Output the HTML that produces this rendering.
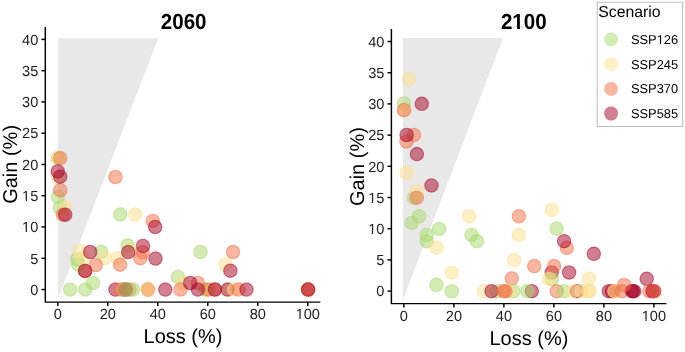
<!DOCTYPE html>
<html><head><meta charset="utf-8"><title>Gain vs Loss</title>
<style>
html,body{margin:0;padding:0;background:#fff;}
body{width:685px;height:352px;overflow:hidden;}
svg{display:block;font-family:'Liberation Sans', Arial, Helvetica, sans-serif;}
</style></head>
<body>
<svg width="685" height="352" viewBox="0 0 685 352">
<rect width="685" height="352" fill="#fff"/>
<polygon points="57.8,299.4 57.8,38.2 158.2,38.2" fill="#E8E8E8"/>
<circle cx="115.4" cy="289.6" r="6.7" fill="#A50026" fill-opacity="0.5" stroke="#A50026" stroke-opacity="0.5" stroke-width="1.1"/>
<circle cx="214.9" cy="289.6" r="6.7" fill="#F46D43" fill-opacity="0.5" stroke="#F46D43" stroke-opacity="0.5" stroke-width="1.1"/>
<circle cx="227.6" cy="289.6" r="6.7" fill="#FEE08B" fill-opacity="0.5" stroke="#FEE08B" stroke-opacity="0.5" stroke-width="1.1"/>
<circle cx="208.1" cy="289.6" r="6.7" fill="#FEE08B" fill-opacity="0.5" stroke="#FEE08B" stroke-opacity="0.5" stroke-width="1.1"/>
<circle cx="57.8" cy="158.2" r="6.7" fill="#A6D96A" fill-opacity="0.5" stroke="#A6D96A" stroke-opacity="0.5" stroke-width="1.1"/>
<circle cx="57.9" cy="196.8" r="6.7" fill="#A6D96A" fill-opacity="0.5" stroke="#A6D96A" stroke-opacity="0.5" stroke-width="1.1"/>
<circle cx="59.9" cy="208" r="6.7" fill="#A6D96A" fill-opacity="0.5" stroke="#A6D96A" stroke-opacity="0.5" stroke-width="1.1"/>
<circle cx="77.2" cy="259.4" r="6.7" fill="#A6D96A" fill-opacity="0.5" stroke="#A6D96A" stroke-opacity="0.5" stroke-width="1.1"/>
<circle cx="78.2" cy="264.5" r="6.7" fill="#A6D96A" fill-opacity="0.5" stroke="#A6D96A" stroke-opacity="0.5" stroke-width="1.1"/>
<circle cx="70.1" cy="289.6" r="6.7" fill="#A6D96A" fill-opacity="0.5" stroke="#A6D96A" stroke-opacity="0.5" stroke-width="1.1"/>
<circle cx="85.2" cy="289.6" r="6.7" fill="#A6D96A" fill-opacity="0.5" stroke="#A6D96A" stroke-opacity="0.5" stroke-width="1.1"/>
<circle cx="93" cy="283" r="6.7" fill="#A6D96A" fill-opacity="0.5" stroke="#A6D96A" stroke-opacity="0.5" stroke-width="1.1"/>
<circle cx="101.1" cy="251.7" r="6.7" fill="#A6D96A" fill-opacity="0.5" stroke="#A6D96A" stroke-opacity="0.5" stroke-width="1.1"/>
<circle cx="120.3" cy="214.5" r="6.7" fill="#A6D96A" fill-opacity="0.5" stroke="#A6D96A" stroke-opacity="0.5" stroke-width="1.1"/>
<circle cx="127.6" cy="245.5" r="6.7" fill="#A6D96A" fill-opacity="0.5" stroke="#A6D96A" stroke-opacity="0.5" stroke-width="1.1"/>
<circle cx="177.9" cy="276.9" r="6.7" fill="#A6D96A" fill-opacity="0.5" stroke="#A6D96A" stroke-opacity="0.5" stroke-width="1.1"/>
<circle cx="200.4" cy="252" r="6.7" fill="#A6D96A" fill-opacity="0.5" stroke="#A6D96A" stroke-opacity="0.5" stroke-width="1.1"/>
<circle cx="205.6" cy="289.6" r="6.7" fill="#A6D96A" fill-opacity="0.5" stroke="#A6D96A" stroke-opacity="0.5" stroke-width="1.1"/>
<circle cx="57.8" cy="158.2" r="6.7" fill="#FEE08B" fill-opacity="0.5" stroke="#FEE08B" stroke-opacity="0.5" stroke-width="1.1"/>
<circle cx="57.8" cy="177" r="6.7" fill="#FEE08B" fill-opacity="0.5" stroke="#FEE08B" stroke-opacity="0.5" stroke-width="1.1"/>
<circle cx="65.3" cy="207.6" r="6.7" fill="#FEE08B" fill-opacity="0.5" stroke="#FEE08B" stroke-opacity="0.5" stroke-width="1.1"/>
<circle cx="79.7" cy="251" r="6.7" fill="#FEE08B" fill-opacity="0.5" stroke="#FEE08B" stroke-opacity="0.5" stroke-width="1.1"/>
<circle cx="82.4" cy="258.4" r="6.7" fill="#FEE08B" fill-opacity="0.5" stroke="#FEE08B" stroke-opacity="0.5" stroke-width="1.1"/>
<circle cx="105" cy="258" r="6.7" fill="#FEE08B" fill-opacity="0.5" stroke="#FEE08B" stroke-opacity="0.5" stroke-width="1.1"/>
<circle cx="117.9" cy="258" r="6.7" fill="#FEE08B" fill-opacity="0.5" stroke="#FEE08B" stroke-opacity="0.5" stroke-width="1.1"/>
<circle cx="129.5" cy="250" r="6.7" fill="#FEE08B" fill-opacity="0.5" stroke="#FEE08B" stroke-opacity="0.5" stroke-width="1.1"/>
<circle cx="135.2" cy="214.5" r="6.7" fill="#FEE08B" fill-opacity="0.5" stroke="#FEE08B" stroke-opacity="0.5" stroke-width="1.1"/>
<circle cx="123.4" cy="289.6" r="6.7" fill="#FEE08B" fill-opacity="0.5" stroke="#FEE08B" stroke-opacity="0.5" stroke-width="1.1"/>
<circle cx="182.9" cy="283" r="6.7" fill="#FEE08B" fill-opacity="0.5" stroke="#FEE08B" stroke-opacity="0.5" stroke-width="1.1"/>
<circle cx="225.5" cy="264.5" r="6.7" fill="#FEE08B" fill-opacity="0.5" stroke="#FEE08B" stroke-opacity="0.5" stroke-width="1.1"/>
<circle cx="60.2" cy="158.1" r="6.7" fill="#F46D43" fill-opacity="0.5" stroke="#F46D43" stroke-opacity="0.5" stroke-width="1.1"/>
<circle cx="60.2" cy="190.2" r="6.7" fill="#F46D43" fill-opacity="0.5" stroke="#F46D43" stroke-opacity="0.5" stroke-width="1.1"/>
<circle cx="62.9" cy="214.7" r="6.7" fill="#F46D43" fill-opacity="0.5" stroke="#F46D43" stroke-opacity="0.5" stroke-width="1.1"/>
<circle cx="95.7" cy="265" r="6.7" fill="#F46D43" fill-opacity="0.5" stroke="#F46D43" stroke-opacity="0.5" stroke-width="1.1"/>
<circle cx="85.1" cy="270.9" r="6.7" fill="#F46D43" fill-opacity="0.5" stroke="#F46D43" stroke-opacity="0.5" stroke-width="1.1"/>
<circle cx="120.1" cy="264.7" r="6.7" fill="#F46D43" fill-opacity="0.5" stroke="#F46D43" stroke-opacity="0.5" stroke-width="1.1"/>
<circle cx="115.4" cy="177" r="6.7" fill="#F46D43" fill-opacity="0.5" stroke="#F46D43" stroke-opacity="0.5" stroke-width="1.1"/>
<circle cx="142.7" cy="252.3" r="6.7" fill="#F46D43" fill-opacity="0.5" stroke="#F46D43" stroke-opacity="0.5" stroke-width="1.1"/>
<circle cx="140.3" cy="258.2" r="6.7" fill="#F46D43" fill-opacity="0.5" stroke="#F46D43" stroke-opacity="0.5" stroke-width="1.1"/>
<circle cx="152.8" cy="220.9" r="6.7" fill="#F46D43" fill-opacity="0.5" stroke="#F46D43" stroke-opacity="0.5" stroke-width="1.1"/>
<circle cx="120.8" cy="289.6" r="6.7" fill="#F46D43" fill-opacity="0.5" stroke="#F46D43" stroke-opacity="0.5" stroke-width="1.1"/>
<circle cx="125" cy="289.6" r="6.7" fill="#F46D43" fill-opacity="0.5" stroke="#F46D43" stroke-opacity="0.5" stroke-width="1.1"/>
<circle cx="129.5" cy="289.6" r="6.7" fill="#F46D43" fill-opacity="0.5" stroke="#F46D43" stroke-opacity="0.5" stroke-width="1.1"/>
<circle cx="180.5" cy="289.6" r="6.7" fill="#F46D43" fill-opacity="0.5" stroke="#F46D43" stroke-opacity="0.5" stroke-width="1.1"/>
<circle cx="197.8" cy="283" r="6.7" fill="#F46D43" fill-opacity="0.5" stroke="#F46D43" stroke-opacity="0.5" stroke-width="1.1"/>
<circle cx="208.1" cy="289.6" r="6.7" fill="#F46D43" fill-opacity="0.5" stroke="#F46D43" stroke-opacity="0.5" stroke-width="1.1"/>
<circle cx="233" cy="252" r="6.7" fill="#F46D43" fill-opacity="0.5" stroke="#F46D43" stroke-opacity="0.5" stroke-width="1.1"/>
<circle cx="57.7" cy="171.4" r="6.7" fill="#A50026" fill-opacity="0.5" stroke="#A50026" stroke-opacity="0.5" stroke-width="1.1"/>
<circle cx="60.2" cy="176.7" r="6.7" fill="#A50026" fill-opacity="0.5" stroke="#A50026" stroke-opacity="0.5" stroke-width="1.1"/>
<circle cx="65.2" cy="214.7" r="6.7" fill="#A50026" fill-opacity="0.5" stroke="#A50026" stroke-opacity="0.5" stroke-width="1.1"/>
<circle cx="90.2" cy="252" r="6.7" fill="#A50026" fill-opacity="0.5" stroke="#A50026" stroke-opacity="0.5" stroke-width="1.1"/>
<circle cx="85.1" cy="270.9" r="6.7" fill="#A50026" fill-opacity="0.5" stroke="#A50026" stroke-opacity="0.5" stroke-width="1.1"/>
<circle cx="128.2" cy="252.1" r="6.7" fill="#A50026" fill-opacity="0.5" stroke="#A50026" stroke-opacity="0.5" stroke-width="1.1"/>
<circle cx="143" cy="245.9" r="6.7" fill="#A50026" fill-opacity="0.5" stroke="#A50026" stroke-opacity="0.5" stroke-width="1.1"/>
<circle cx="155.5" cy="258.6" r="6.7" fill="#A50026" fill-opacity="0.5" stroke="#A50026" stroke-opacity="0.5" stroke-width="1.1"/>
<circle cx="155.2" cy="227" r="6.7" fill="#A50026" fill-opacity="0.5" stroke="#A50026" stroke-opacity="0.5" stroke-width="1.1"/>
<circle cx="165.3" cy="289.6" r="6.7" fill="#A50026" fill-opacity="0.5" stroke="#A50026" stroke-opacity="0.5" stroke-width="1.1"/>
<circle cx="190.2" cy="283" r="6.7" fill="#A50026" fill-opacity="0.5" stroke="#A50026" stroke-opacity="0.5" stroke-width="1.1"/>
<circle cx="197.9" cy="289.6" r="6.7" fill="#A50026" fill-opacity="0.5" stroke="#A50026" stroke-opacity="0.5" stroke-width="1.1"/>
<circle cx="214.9" cy="289.6" r="6.7" fill="#A50026" fill-opacity="0.5" stroke="#A50026" stroke-opacity="0.5" stroke-width="1.1"/>
<circle cx="227.6" cy="289.6" r="6.7" fill="#A50026" fill-opacity="0.5" stroke="#A50026" stroke-opacity="0.5" stroke-width="1.1"/>
<circle cx="230.4" cy="270.7" r="6.7" fill="#A50026" fill-opacity="0.5" stroke="#A50026" stroke-opacity="0.5" stroke-width="1.1"/>
<circle cx="148" cy="289.6" r="6.7" fill="#F46D43" fill-opacity="0.5" stroke="#F46D43" stroke-opacity="0.5" stroke-width="1.1"/>
<circle cx="148" cy="289.6" r="6.7" fill="#F46D43" fill-opacity="0.5" stroke="#F46D43" stroke-opacity="0.5" stroke-width="1.1"/>
<circle cx="148" cy="289.6" r="6.7" fill="#FEE08B" fill-opacity="0.5" stroke="#FEE08B" stroke-opacity="0.5" stroke-width="1.1"/>
<circle cx="133" cy="289.6" r="6.7" fill="#A6D96A" fill-opacity="0.5" stroke="#A6D96A" stroke-opacity="0.5" stroke-width="1.1"/>
<circle cx="125.5" cy="289.6" r="6.7" fill="#A50026" fill-opacity="0.5" stroke="#A50026" stroke-opacity="0.5" stroke-width="1.1"/>
<circle cx="125.3" cy="289.6" r="6.7" fill="#A6D96A" fill-opacity="0.5" stroke="#A6D96A" stroke-opacity="0.5" stroke-width="1.1"/>
<circle cx="234" cy="289.6" r="6.7" fill="#FEE08B" fill-opacity="0.5" stroke="#FEE08B" stroke-opacity="0.5" stroke-width="1.1"/>
<circle cx="238.5" cy="289.6" r="6.7" fill="#F46D43" fill-opacity="0.5" stroke="#F46D43" stroke-opacity="0.5" stroke-width="1.1"/>
<circle cx="246.5" cy="289.6" r="6.7" fill="#A50026" fill-opacity="0.5" stroke="#A50026" stroke-opacity="0.5" stroke-width="1.1"/>
<circle cx="308.1" cy="289.6" r="6.7" fill="#F46D43" fill-opacity="0.5" stroke="#F46D43" stroke-opacity="0.5" stroke-width="1.1"/>
<circle cx="308.1" cy="289.6" r="6.7" fill="#FEE08B" fill-opacity="0.5" stroke="#FEE08B" stroke-opacity="0.5" stroke-width="1.1"/>
<circle cx="308.1" cy="289.6" r="6.7" fill="#F46D43" fill-opacity="0.5" stroke="#F46D43" stroke-opacity="0.5" stroke-width="1.1"/>
<circle cx="308.1" cy="289.6" r="6.7" fill="#A50026" fill-opacity="0.5" stroke="#A50026" stroke-opacity="0.5" stroke-width="1.1"/>
<path d="M45.3 26.9V302.1H320.3" fill="none" stroke="#000" stroke-width="1.45" stroke-linejoin="round"/>
<line x1="41.4" y1="289.55" x2="45.3" y2="289.55" stroke="#000" stroke-width="1.45"/>
<text transform="translate(38.3 294.8) skewX(0.05)" text-anchor="end" font-size="14.6" fill="#222">0</text>
<line x1="41.4" y1="258.28" x2="45.3" y2="258.28" stroke="#000" stroke-width="1.45"/>
<text transform="translate(38.3 263.53) skewX(0.05)" text-anchor="end" font-size="14.6" fill="#222">5</text>
<line x1="41.4" y1="227.01" x2="45.3" y2="227.01" stroke="#000" stroke-width="1.45"/>
<text transform="translate(38.3 232.26) skewX(0.05)" text-anchor="end" font-size="14.6" fill="#222">10</text>
<rect transform="translate(38.3 232.26) skewX(0.05)" x="-15.58" y="-1.59" width="3.01" height="2.29" fill="#fff"/>
<rect transform="translate(38.3 232.26) skewX(0.05)" x="-11.28" y="-1.59" width="2.9" height="2.29" fill="#fff"/>
<line x1="41.4" y1="195.74" x2="45.3" y2="195.74" stroke="#000" stroke-width="1.45"/>
<text transform="translate(38.3 200.99) skewX(0.05)" text-anchor="end" font-size="14.6" fill="#222">15</text>
<rect transform="translate(38.3 200.99) skewX(0.05)" x="-15.58" y="-1.59" width="3.01" height="2.29" fill="#fff"/>
<rect transform="translate(38.3 200.99) skewX(0.05)" x="-11.28" y="-1.59" width="2.9" height="2.29" fill="#fff"/>
<line x1="41.4" y1="164.47" x2="45.3" y2="164.47" stroke="#000" stroke-width="1.45"/>
<text transform="translate(38.3 169.72) skewX(0.05)" text-anchor="end" font-size="14.6" fill="#222">20</text>
<line x1="41.4" y1="133.2" x2="45.3" y2="133.2" stroke="#000" stroke-width="1.45"/>
<text transform="translate(38.3 138.45) skewX(0.05)" text-anchor="end" font-size="14.6" fill="#222">25</text>
<line x1="41.4" y1="101.93" x2="45.3" y2="101.93" stroke="#000" stroke-width="1.45"/>
<text transform="translate(38.3 107.18) skewX(0.05)" text-anchor="end" font-size="14.6" fill="#222">30</text>
<line x1="41.4" y1="70.66" x2="45.3" y2="70.66" stroke="#000" stroke-width="1.45"/>
<text transform="translate(38.3 75.91) skewX(0.05)" text-anchor="end" font-size="14.6" fill="#222">35</text>
<line x1="41.4" y1="39.39" x2="45.3" y2="39.39" stroke="#000" stroke-width="1.45"/>
<text transform="translate(38.3 44.64) skewX(0.05)" text-anchor="end" font-size="14.6" fill="#222">40</text>
<line x1="57.8" y1="302.1" x2="57.8" y2="306" stroke="#000" stroke-width="1.45"/>
<text transform="translate(57.8 319.3) skewX(0.05)" text-anchor="middle" font-size="14.6" fill="#222">0</text>
<line x1="107.8" y1="302.1" x2="107.8" y2="306" stroke="#000" stroke-width="1.45"/>
<text transform="translate(107.8 319.3) skewX(0.05)" text-anchor="middle" font-size="14.6" fill="#222">20</text>
<line x1="157.8" y1="302.1" x2="157.8" y2="306" stroke="#000" stroke-width="1.45"/>
<text transform="translate(157.8 319.3) skewX(0.05)" text-anchor="middle" font-size="14.6" fill="#222">40</text>
<line x1="207.8" y1="302.1" x2="207.8" y2="306" stroke="#000" stroke-width="1.45"/>
<text transform="translate(207.8 319.3) skewX(0.05)" text-anchor="middle" font-size="14.6" fill="#222">60</text>
<line x1="257.8" y1="302.1" x2="257.8" y2="306" stroke="#000" stroke-width="1.45"/>
<text transform="translate(257.8 319.3) skewX(0.05)" text-anchor="middle" font-size="14.6" fill="#222">80</text>
<line x1="307.8" y1="302.1" x2="307.8" y2="306" stroke="#000" stroke-width="1.45"/>
<text transform="translate(307.8 319.3) skewX(0.05)" text-anchor="middle" font-size="14.6" fill="#222">100</text>
<rect transform="translate(307.8 319.3) skewX(0.05)" x="-11.52" y="-1.59" width="3.01" height="2.29" fill="#fff"/>
<rect transform="translate(307.8 319.3) skewX(0.05)" x="-7.22" y="-1.59" width="2.9" height="2.29" fill="#fff"/>
<text transform="translate(183.65 28.85) scale(1 1.06) skewX(0.05)" text-anchor="middle" font-size="20.6" font-weight="bold" fill="#000">2060</text>
<text transform="translate(183 343.3) skewX(0.05)" text-anchor="middle" font-size="20" fill="#000">Loss (%)</text>
<text transform="translate(17.4 164.4) rotate(-90) skewX(0.05)" text-anchor="middle" font-size="20" fill="#000">Gain (%)</text>
<polygon points="402.9,300.1 402.9,38.1 503,38.1" fill="#E8E8E8"/>
<circle cx="551.7" cy="272.5" r="6.7" fill="#A50026" fill-opacity="0.5" stroke="#A50026" stroke-opacity="0.5" stroke-width="1.1"/>
<circle cx="404" cy="103.5" r="6.7" fill="#A6D96A" fill-opacity="0.5" stroke="#A6D96A" stroke-opacity="0.5" stroke-width="1.1"/>
<circle cx="414" cy="197.9" r="6.7" fill="#A6D96A" fill-opacity="0.5" stroke="#A6D96A" stroke-opacity="0.5" stroke-width="1.1"/>
<circle cx="419.1" cy="216.3" r="6.7" fill="#A6D96A" fill-opacity="0.5" stroke="#A6D96A" stroke-opacity="0.5" stroke-width="1.1"/>
<circle cx="411.8" cy="222.9" r="6.7" fill="#A6D96A" fill-opacity="0.5" stroke="#A6D96A" stroke-opacity="0.5" stroke-width="1.1"/>
<circle cx="439.1" cy="228.9" r="6.7" fill="#A6D96A" fill-opacity="0.5" stroke="#A6D96A" stroke-opacity="0.5" stroke-width="1.1"/>
<circle cx="426.7" cy="235" r="6.7" fill="#A6D96A" fill-opacity="0.5" stroke="#A6D96A" stroke-opacity="0.5" stroke-width="1.1"/>
<circle cx="426.7" cy="241.4" r="6.7" fill="#A6D96A" fill-opacity="0.5" stroke="#A6D96A" stroke-opacity="0.5" stroke-width="1.1"/>
<circle cx="436.5" cy="284.8" r="6.7" fill="#A6D96A" fill-opacity="0.5" stroke="#A6D96A" stroke-opacity="0.5" stroke-width="1.1"/>
<circle cx="451.8" cy="291.3" r="6.7" fill="#A6D96A" fill-opacity="0.5" stroke="#A6D96A" stroke-opacity="0.5" stroke-width="1.1"/>
<circle cx="471.5" cy="235" r="6.7" fill="#A6D96A" fill-opacity="0.5" stroke="#A6D96A" stroke-opacity="0.5" stroke-width="1.1"/>
<circle cx="476.9" cy="241.3" r="6.7" fill="#A6D96A" fill-opacity="0.5" stroke="#A6D96A" stroke-opacity="0.5" stroke-width="1.1"/>
<circle cx="556.6" cy="228.6" r="6.7" fill="#A6D96A" fill-opacity="0.5" stroke="#A6D96A" stroke-opacity="0.5" stroke-width="1.1"/>
<circle cx="551.9" cy="279" r="6.7" fill="#A6D96A" fill-opacity="0.5" stroke="#A6D96A" stroke-opacity="0.5" stroke-width="1.1"/>
<circle cx="408.9" cy="78.9" r="6.7" fill="#FEE08B" fill-opacity="0.5" stroke="#FEE08B" stroke-opacity="0.5" stroke-width="1.1"/>
<circle cx="404" cy="110" r="6.7" fill="#FEE08B" fill-opacity="0.5" stroke="#FEE08B" stroke-opacity="0.5" stroke-width="1.1"/>
<circle cx="406.5" cy="172.8" r="6.7" fill="#FEE08B" fill-opacity="0.5" stroke="#FEE08B" stroke-opacity="0.5" stroke-width="1.1"/>
<circle cx="416.9" cy="191" r="6.7" fill="#FEE08B" fill-opacity="0.5" stroke="#FEE08B" stroke-opacity="0.5" stroke-width="1.1"/>
<circle cx="436.4" cy="247.6" r="6.7" fill="#FEE08B" fill-opacity="0.5" stroke="#FEE08B" stroke-opacity="0.5" stroke-width="1.1"/>
<circle cx="451.8" cy="272.6" r="6.7" fill="#FEE08B" fill-opacity="0.5" stroke="#FEE08B" stroke-opacity="0.5" stroke-width="1.1"/>
<circle cx="469.1" cy="216.2" r="6.7" fill="#FEE08B" fill-opacity="0.5" stroke="#FEE08B" stroke-opacity="0.5" stroke-width="1.1"/>
<circle cx="518.9" cy="234.9" r="6.7" fill="#FEE08B" fill-opacity="0.5" stroke="#FEE08B" stroke-opacity="0.5" stroke-width="1.1"/>
<circle cx="551.8" cy="209.9" r="6.7" fill="#FEE08B" fill-opacity="0.5" stroke="#FEE08B" stroke-opacity="0.5" stroke-width="1.1"/>
<circle cx="514.1" cy="259.9" r="6.7" fill="#FEE08B" fill-opacity="0.5" stroke="#FEE08B" stroke-opacity="0.5" stroke-width="1.1"/>
<circle cx="549.1" cy="278.8" r="6.7" fill="#FEE08B" fill-opacity="0.5" stroke="#FEE08B" stroke-opacity="0.5" stroke-width="1.1"/>
<circle cx="589.1" cy="278.6" r="6.7" fill="#FEE08B" fill-opacity="0.5" stroke="#FEE08B" stroke-opacity="0.5" stroke-width="1.1"/>
<circle cx="404" cy="110" r="6.7" fill="#F46D43" fill-opacity="0.5" stroke="#F46D43" stroke-opacity="0.5" stroke-width="1.1"/>
<circle cx="413.9" cy="135" r="6.7" fill="#F46D43" fill-opacity="0.5" stroke="#F46D43" stroke-opacity="0.5" stroke-width="1.1"/>
<circle cx="406.4" cy="141.5" r="6.7" fill="#F46D43" fill-opacity="0.5" stroke="#F46D43" stroke-opacity="0.5" stroke-width="1.1"/>
<circle cx="416.8" cy="197.7" r="6.7" fill="#F46D43" fill-opacity="0.5" stroke="#F46D43" stroke-opacity="0.5" stroke-width="1.1"/>
<circle cx="518.9" cy="216.3" r="6.7" fill="#F46D43" fill-opacity="0.5" stroke="#F46D43" stroke-opacity="0.5" stroke-width="1.1"/>
<circle cx="534.2" cy="266.1" r="6.7" fill="#F46D43" fill-opacity="0.5" stroke="#F46D43" stroke-opacity="0.5" stroke-width="1.1"/>
<circle cx="554.1" cy="266.1" r="6.7" fill="#F46D43" fill-opacity="0.5" stroke="#F46D43" stroke-opacity="0.5" stroke-width="1.1"/>
<circle cx="511.8" cy="278.5" r="6.7" fill="#F46D43" fill-opacity="0.5" stroke="#F46D43" stroke-opacity="0.5" stroke-width="1.1"/>
<circle cx="566.8" cy="247.8" r="6.7" fill="#F46D43" fill-opacity="0.5" stroke="#F46D43" stroke-opacity="0.5" stroke-width="1.1"/>
<circle cx="421.8" cy="103.8" r="6.7" fill="#A50026" fill-opacity="0.5" stroke="#A50026" stroke-opacity="0.5" stroke-width="1.1"/>
<circle cx="406.6" cy="135" r="6.7" fill="#A50026" fill-opacity="0.5" stroke="#A50026" stroke-opacity="0.5" stroke-width="1.1"/>
<circle cx="416.9" cy="154.1" r="6.7" fill="#A50026" fill-opacity="0.5" stroke="#A50026" stroke-opacity="0.5" stroke-width="1.1"/>
<circle cx="431.5" cy="185.4" r="6.7" fill="#A50026" fill-opacity="0.5" stroke="#A50026" stroke-opacity="0.5" stroke-width="1.1"/>
<circle cx="564.1" cy="241.2" r="6.7" fill="#A50026" fill-opacity="0.5" stroke="#A50026" stroke-opacity="0.5" stroke-width="1.1"/>
<circle cx="593.8" cy="253.8" r="6.7" fill="#A50026" fill-opacity="0.5" stroke="#A50026" stroke-opacity="0.5" stroke-width="1.1"/>
<circle cx="569.1" cy="272.5" r="6.7" fill="#A50026" fill-opacity="0.5" stroke="#A50026" stroke-opacity="0.5" stroke-width="1.1"/>
<circle cx="646.7" cy="278.8" r="6.7" fill="#A50026" fill-opacity="0.5" stroke="#A50026" stroke-opacity="0.5" stroke-width="1.1"/>
<circle cx="497" cy="291.2" r="6.7" fill="#A6D96A" fill-opacity="0.5" stroke="#A6D96A" stroke-opacity="0.5" stroke-width="1.1"/>
<circle cx="484" cy="291.2" r="6.7" fill="#FEE08B" fill-opacity="0.5" stroke="#FEE08B" stroke-opacity="0.5" stroke-width="1.1"/>
<circle cx="491.5" cy="291.2" r="6.7" fill="#A50026" fill-opacity="0.5" stroke="#A50026" stroke-opacity="0.5" stroke-width="1.1"/>
<circle cx="513.5" cy="291.2" r="6.7" fill="#A6D96A" fill-opacity="0.5" stroke="#A6D96A" stroke-opacity="0.5" stroke-width="1.1"/>
<circle cx="509" cy="291.2" r="6.7" fill="#FEE08B" fill-opacity="0.5" stroke="#FEE08B" stroke-opacity="0.5" stroke-width="1.1"/>
<circle cx="503.5" cy="291.2" r="6.7" fill="#F46D43" fill-opacity="0.5" stroke="#F46D43" stroke-opacity="0.5" stroke-width="1.1"/>
<circle cx="505.5" cy="291.2" r="6.7" fill="#F46D43" fill-opacity="0.5" stroke="#F46D43" stroke-opacity="0.5" stroke-width="1.1"/>
<circle cx="531.8" cy="291.2" r="6.7" fill="#A50026" fill-opacity="0.5" stroke="#A50026" stroke-opacity="0.5" stroke-width="1.1"/>
<circle cx="527.3" cy="291.2" r="6.7" fill="#A6D96A" fill-opacity="0.5" stroke="#A6D96A" stroke-opacity="0.5" stroke-width="1.1"/>
<circle cx="556.8" cy="291.2" r="6.7" fill="#F46D43" fill-opacity="0.5" stroke="#F46D43" stroke-opacity="0.5" stroke-width="1.1"/>
<circle cx="563.9" cy="291.2" r="6.7" fill="#A6D96A" fill-opacity="0.5" stroke="#A6D96A" stroke-opacity="0.5" stroke-width="1.1"/>
<circle cx="577" cy="291.2" r="6.7" fill="#A50026" fill-opacity="0.5" stroke="#A50026" stroke-opacity="0.5" stroke-width="1.1"/>
<circle cx="573.4" cy="291.2" r="6.7" fill="#FEE08B" fill-opacity="0.5" stroke="#FEE08B" stroke-opacity="0.5" stroke-width="1.1"/>
<circle cx="581.5" cy="291.2" r="6.7" fill="#FEE08B" fill-opacity="0.5" stroke="#FEE08B" stroke-opacity="0.5" stroke-width="1.1"/>
<circle cx="588.5" cy="291.2" r="6.7" fill="#FEE08B" fill-opacity="0.5" stroke="#FEE08B" stroke-opacity="0.5" stroke-width="1.1"/>
<circle cx="589.5" cy="291.2" r="6.7" fill="#FEE08B" fill-opacity="0.5" stroke="#FEE08B" stroke-opacity="0.5" stroke-width="1.1"/>
<circle cx="608.8" cy="291.2" r="6.7" fill="#A50026" fill-opacity="0.5" stroke="#A50026" stroke-opacity="0.5" stroke-width="1.1"/>
<circle cx="611.8" cy="291.2" r="6.7" fill="#A50026" fill-opacity="0.5" stroke="#A50026" stroke-opacity="0.5" stroke-width="1.1"/>
<circle cx="614.2" cy="291.2" r="6.7" fill="#F46D43" fill-opacity="0.5" stroke="#F46D43" stroke-opacity="0.5" stroke-width="1.1"/>
<circle cx="614.5" cy="291.2" r="6.7" fill="#FEE08B" fill-opacity="0.5" stroke="#FEE08B" stroke-opacity="0.5" stroke-width="1.1"/>
<circle cx="621.9" cy="291.2" r="6.7" fill="#F46D43" fill-opacity="0.5" stroke="#F46D43" stroke-opacity="0.5" stroke-width="1.1"/>
<circle cx="631.8" cy="291.2" r="6.7" fill="#A50026" fill-opacity="0.5" stroke="#A50026" stroke-opacity="0.5" stroke-width="1.1"/>
<circle cx="633" cy="291.2" r="6.7" fill="#A50026" fill-opacity="0.5" stroke="#A50026" stroke-opacity="0.5" stroke-width="1.1"/>
<circle cx="634.2" cy="291.2" r="6.7" fill="#A50026" fill-opacity="0.5" stroke="#A50026" stroke-opacity="0.5" stroke-width="1.1"/>
<circle cx="649.3" cy="291.2" r="6.7" fill="#F46D43" fill-opacity="0.5" stroke="#F46D43" stroke-opacity="0.5" stroke-width="1.1"/>
<circle cx="652.5" cy="291.2" r="6.7" fill="#A50026" fill-opacity="0.5" stroke="#A50026" stroke-opacity="0.5" stroke-width="1.1"/>
<circle cx="654.2" cy="291.2" r="6.7" fill="#A50026" fill-opacity="0.5" stroke="#A50026" stroke-opacity="0.5" stroke-width="1.1"/>
<circle cx="654.2" cy="291.2" r="6.7" fill="#F46D43" fill-opacity="0.5" stroke="#F46D43" stroke-opacity="0.5" stroke-width="1.1"/>
<circle cx="624.2" cy="284.9" r="6.7" fill="#F46D43" fill-opacity="0.5" stroke="#F46D43" stroke-opacity="0.5" stroke-width="1.1"/>
<path d="M391.4 29V303.6H666.4" fill="none" stroke="#000" stroke-width="1.45" stroke-linejoin="round"/>
<line x1="387.5" y1="291.1" x2="391.4" y2="291.1" stroke="#000" stroke-width="1.45"/>
<text transform="translate(384.4 296.35) skewX(0.05)" text-anchor="end" font-size="14.6" fill="#222">0</text>
<line x1="387.5" y1="259.9" x2="391.4" y2="259.9" stroke="#000" stroke-width="1.45"/>
<text transform="translate(384.4 265.15) skewX(0.05)" text-anchor="end" font-size="14.6" fill="#222">5</text>
<line x1="387.5" y1="228.7" x2="391.4" y2="228.7" stroke="#000" stroke-width="1.45"/>
<text transform="translate(384.4 233.95) skewX(0.05)" text-anchor="end" font-size="14.6" fill="#222">10</text>
<rect transform="translate(384.4 233.95) skewX(0.05)" x="-15.58" y="-1.59" width="3.01" height="2.29" fill="#fff"/>
<rect transform="translate(384.4 233.95) skewX(0.05)" x="-11.28" y="-1.59" width="2.9" height="2.29" fill="#fff"/>
<line x1="387.5" y1="197.5" x2="391.4" y2="197.5" stroke="#000" stroke-width="1.45"/>
<text transform="translate(384.4 202.75) skewX(0.05)" text-anchor="end" font-size="14.6" fill="#222">15</text>
<rect transform="translate(384.4 202.75) skewX(0.05)" x="-15.58" y="-1.59" width="3.01" height="2.29" fill="#fff"/>
<rect transform="translate(384.4 202.75) skewX(0.05)" x="-11.28" y="-1.59" width="2.9" height="2.29" fill="#fff"/>
<line x1="387.5" y1="166.3" x2="391.4" y2="166.3" stroke="#000" stroke-width="1.45"/>
<text transform="translate(384.4 171.55) skewX(0.05)" text-anchor="end" font-size="14.6" fill="#222">20</text>
<line x1="387.5" y1="135.1" x2="391.4" y2="135.1" stroke="#000" stroke-width="1.45"/>
<text transform="translate(384.4 140.35) skewX(0.05)" text-anchor="end" font-size="14.6" fill="#222">25</text>
<line x1="387.5" y1="103.9" x2="391.4" y2="103.9" stroke="#000" stroke-width="1.45"/>
<text transform="translate(384.4 109.15) skewX(0.05)" text-anchor="end" font-size="14.6" fill="#222">30</text>
<line x1="387.5" y1="72.7" x2="391.4" y2="72.7" stroke="#000" stroke-width="1.45"/>
<text transform="translate(384.4 77.95) skewX(0.05)" text-anchor="end" font-size="14.6" fill="#222">35</text>
<line x1="387.5" y1="41.5" x2="391.4" y2="41.5" stroke="#000" stroke-width="1.45"/>
<text transform="translate(384.4 46.75) skewX(0.05)" text-anchor="end" font-size="14.6" fill="#222">40</text>
<line x1="403.9" y1="303.6" x2="403.9" y2="307.5" stroke="#000" stroke-width="1.45"/>
<text transform="translate(403.9 321.2) skewX(0.05)" text-anchor="middle" font-size="14.6" fill="#222">0</text>
<line x1="453.9" y1="303.6" x2="453.9" y2="307.5" stroke="#000" stroke-width="1.45"/>
<text transform="translate(453.9 321.2) skewX(0.05)" text-anchor="middle" font-size="14.6" fill="#222">20</text>
<line x1="503.9" y1="303.6" x2="503.9" y2="307.5" stroke="#000" stroke-width="1.45"/>
<text transform="translate(503.9 321.2) skewX(0.05)" text-anchor="middle" font-size="14.6" fill="#222">40</text>
<line x1="553.9" y1="303.6" x2="553.9" y2="307.5" stroke="#000" stroke-width="1.45"/>
<text transform="translate(553.9 321.2) skewX(0.05)" text-anchor="middle" font-size="14.6" fill="#222">60</text>
<line x1="603.9" y1="303.6" x2="603.9" y2="307.5" stroke="#000" stroke-width="1.45"/>
<text transform="translate(603.9 321.2) skewX(0.05)" text-anchor="middle" font-size="14.6" fill="#222">80</text>
<line x1="653.9" y1="303.6" x2="653.9" y2="307.5" stroke="#000" stroke-width="1.45"/>
<text transform="translate(653.9 321.2) skewX(0.05)" text-anchor="middle" font-size="14.6" fill="#222">100</text>
<rect transform="translate(653.9 321.2) skewX(0.05)" x="-11.52" y="-1.59" width="3.01" height="2.29" fill="#fff"/>
<rect transform="translate(653.9 321.2) skewX(0.05)" x="-7.22" y="-1.59" width="2.9" height="2.29" fill="#fff"/>
<text transform="translate(523.8 29.25) scale(1 1.06) skewX(0.05)" text-anchor="middle" font-size="20.6" font-weight="bold" fill="#000">2100</text>
<rect transform="translate(523.8 29.25) scale(1 1.06) skewX(0.05)" x="-10.61" y="-2.6" width="3.96" height="3.3" fill="#fff"/>
<rect transform="translate(523.8 29.25) scale(1 1.06) skewX(0.05)" x="-3.82" y="-2.6" width="3.7" height="3.3" fill="#fff"/>
<text transform="translate(528.9 345.4) skewX(0.05)" text-anchor="middle" font-size="20" fill="#000">Loss (%)</text>
<text transform="translate(363.7 166.6) rotate(-90) skewX(0.05)" text-anchor="middle" font-size="20" fill="#000">Gain (%)</text>
<rect x="597.2" y="2.3" width="85.4" height="124.2" fill="#fff" stroke="#BDBDBD" stroke-width="1"/>
<text transform="translate(598.2 17.1) skewX(0.05)" font-size="15.8" fill="#000">Scenario</text>
<circle cx="611.1" cy="39.4" r="6.9" fill="#A6D96A" fill-opacity="0.5" stroke="#A6D96A" stroke-opacity="0.15" stroke-width="0.6"/>
<text transform="translate(630.9 44) skewX(0.05)" font-size="12.9" fill="#000">SSP126</text>
<rect transform="translate(630.9 44) skewX(0.05)" x="26.35" y="-1.46" width="2.71" height="2.16" fill="#fff"/>
<rect transform="translate(630.9 44) skewX(0.05)" x="30.2" y="-1.46" width="2.61" height="2.16" fill="#fff"/>
<circle cx="611.1" cy="64.1" r="6.9" fill="#FEE08B" fill-opacity="0.5" stroke="#FEE08B" stroke-opacity="0.15" stroke-width="0.6"/>
<text transform="translate(630.9 68.7) skewX(0.05)" font-size="12.9" fill="#000">SSP245</text>
<circle cx="611.1" cy="88.8" r="6.9" fill="#F46D43" fill-opacity="0.5" stroke="#F46D43" stroke-opacity="0.15" stroke-width="0.6"/>
<text transform="translate(630.9 93.4) skewX(0.05)" font-size="12.9" fill="#000">SSP370</text>
<circle cx="611.1" cy="113.5" r="6.9" fill="#A50026" fill-opacity="0.5" stroke="#A50026" stroke-opacity="0.15" stroke-width="0.6"/>
<text transform="translate(630.9 118.1) skewX(0.05)" font-size="12.9" fill="#000">SSP585</text>
</svg>
</body></html>
